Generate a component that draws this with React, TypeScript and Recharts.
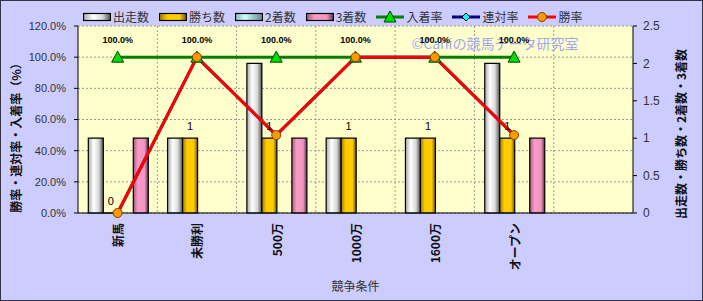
import { ComposedChart, Bar, Line, XAxis, YAxis, CartesianGrid, Legend, LabelList, Customized } from 'recharts';

const categories = ['新馬', '未勝利', '500万', '1000万', '1600万', 'オープン', ''];
const starts = [1, 1, 2, 1, 1, 2, null];
const wins = [0, 1, 1, 1, 1, 1, null];
const seconds = [0, 0, 0, 0, 0, 0, null];
const thirds = [1, 0, 1, 0, 0, 1, null];
const placeRate = [100, 100, 100, 100, 100, 100, null];
const rentaiRate = [0, 100, 50, 100, 100, 50, null];
const winRate = [0, 100, 50, 100, 100, 50, null];

const leftTicks = [0, 20, 40, 60, 80, 100, 120];
const rightTicks = [0, 0.5, 1, 1.5, 2, 2.5];

const data = categories.map((name, i) => ({
  name,
  starts: starts[i],
  wins: wins[i],
  seconds: seconds[i],
  thirds: thirds[i],
  placeRate: placeRate[i],
  rentaiRate: rentaiRate[i],
  winRate: winRate[i],
}));

const FONT = '"Noto Sans CJK JP", "Liberation Sans", sans-serif';
const NUM_FONT = '"Liberation Sans", Arial, sans-serif';

const legendItems = [
  { label: '出走数', kind: 'bar', fill: 'url(#gWhite)' },
  { label: '勝ち数', kind: 'bar', fill: 'url(#gGold)' },
  { label: '2着数', kind: 'bar', fill: 'url(#gCyan)' },
  { label: '3着数', kind: 'bar', fill: 'url(#gPink)' },
  { label: '入着率', kind: 'tri', stroke: '#008000', fill: '#00e000' },
  { label: '連対率', kind: 'dia', stroke: '#000080', fill: '#00ffff' },
  { label: '勝率', kind: 'circ', stroke: '#ff0000', fill: '#ff9900' },
];

function Marker({ kind, cx, cy, fill }: any) {
  if (kind === 'tri') {
    return <polygon points={`${cx},${cy - 6} ${cx - 6},${cy + 5} ${cx + 6},${cy + 5}`} fill={fill} stroke="#004000" strokeWidth={1} />;
  }
  if (kind === 'dia') {
    return <polygon points={`${cx},${cy - 4} ${cx + 4},${cy} ${cx},${cy + 4} ${cx - 4},${cy}`} fill={fill} stroke="#000" strokeWidth={1} />;
  }
  return <circle cx={cx} cy={cy} r={4.5} fill={fill} stroke="#804000" strokeWidth={1} />;
}

function LegendContent() {
  return (
    <div style={{ display: 'flex', gap: 10, fontFamily: FONT, fontSize: 12, color: '#333', lineHeight: '16px' }}>
      {legendItems.map((it) => (
        <div key={it.label} style={{ display: 'flex', alignItems: 'center' }}>
          <svg width={28} height={12} style={{ marginRight: 2 }}>
            {it.kind === 'bar' ? (
              <rect x={0.5} y={2.5} width={27} height={7} fill={it.fill} stroke="#000" strokeWidth={1.2} />
            ) : (
              <g>
                <line x1={0} y1={6} x2={28} y2={6} stroke={it.stroke} strokeWidth={3} />
                <Marker kind={it.kind} cx={14} cy={6} fill={it.fill} />
              </g>
            )}
          </svg>
          <span>{it.label}</span>
        </div>
      ))}
    </div>
  );
}

function Decorations() {
  return (
    <g>
      <defs>
        <linearGradient id="gWhite" x1="0" y1="0" x2="1" y2="0">
          <stop offset="0" stopColor="#a8a8a8" />
          <stop offset="0.35" stopColor="#ffffff" />
          <stop offset="0.7" stopColor="#d8d8d8" />
          <stop offset="1" stopColor="#505050" />
        </linearGradient>
        <linearGradient id="gGold" x1="0" y1="0" x2="1" y2="0">
          <stop offset="0" stopColor="#a07c00" />
          <stop offset="0.3" stopColor="#ffcc00" />
          <stop offset="0.75" stopColor="#ffcc00" />
          <stop offset="1" stopColor="#6a5000" />
        </linearGradient>
        <linearGradient id="gCyan" x1="0" y1="0" x2="1" y2="0">
          <stop offset="0" stopColor="#88bbbb" />
          <stop offset="0.35" stopColor="#ccffff" />
          <stop offset="1" stopColor="#608888" />
        </linearGradient>
        <linearGradient id="gPink" x1="0" y1="0" x2="1" y2="0">
          <stop offset="0" stopColor="#a05878" />
          <stop offset="0.3" stopColor="#f79cc8" />
          <stop offset="0.75" stopColor="#f294c0" />
          <stop offset="1" stopColor="#603048" />
        </linearGradient>
      </defs>
      <text x={495} y={49} textAnchor="middle" fontFamily={FONT} fontSize={14} fill="#a0a8f0">
        ©Caniの競馬データ研究室
      </text>
      <text x={15} y={135} transform="rotate(-90 15 135)" textAnchor="middle" dominantBaseline="central" fontFamily={FONT} fontSize={12} fontWeight="bold" fill="#111">
        勝率・連対率・入着率（%）
      </text>
      <text x={680} y={134} transform="rotate(-90 680 134)" textAnchor="middle" dominantBaseline="central" fontFamily={FONT} fontSize={12} fontWeight="bold" fill="#111">
        出走数・勝ち数・2着数・3着数
      </text>
    </g>
  );
}

function CategoryTick({ x, y, payload }: any) {
  const ty = y + 2;
  return (
    <text x={x} y={ty} transform={`rotate(-90 ${x} ${ty})`} textAnchor="end" dominantBaseline="central" fontFamily={FONT} fontSize={12} fontWeight="bold" fill="#111">
      {payload.value}
    </text>
  );
}

function RateLabel({ x, y, value }: any) {
  if (value == null) return null;
  return (
    <text x={x} y={y - 14} textAnchor="middle" fontFamily={NUM_FONT} fontSize={9} fontWeight="bold" fill="#000">
      {`${Number(value).toFixed(1)}%`}
    </text>
  );
}

function WinsLabel({ x, y, width, value }: any) {
  if (value == null) return null;
  return (
    <text x={x + width / 2} y={y - 8} textAnchor="middle" fontFamily={NUM_FONT} fontSize={11} fill="#000">
      {value}
    </text>
  );
}

export default function App() {
  return (
    <div style={{ position: 'absolute', left: 0, top: 0, width: 703, height: 301, background: '#ccccff' }}>
      <ComposedChart width={703} height={301} data={data} margin={{ top: 26, right: 0, bottom: 0, left: 0 }} barCategoryGap="13%" barGap={0}>
        <Customized component={Decorations} />
        <CartesianGrid
          yAxisId="left"
          fill="#ffffcc"
          stroke="#999999"
          strokeDasharray="2 2"
          verticalCoordinatesGenerator={({ offset }: any) =>
            categories.slice(1).map((_, i) => offset.left + ((i + 1) * offset.width) / categories.length)
          }
        />
        <XAxis dataKey="name" interval={0} height={88} tickLine={false} axisLine={{ stroke: '#000' }} tick={<CategoryTick />}
          label={{ value: '競争条件', position: 'insideBottom', offset: 10, fontFamily: FONT, fontSize: 12, fill: '#333' }} />
        <YAxis yAxisId="left" width={78} domain={[0, 120]} ticks={leftTicks} tickSize={4} tickMargin={8}
          tickFormatter={(v: number) => `${v.toFixed(1)}%`} axisLine={{ stroke: '#000' }} tickLine={{ stroke: '#000' }}
          tick={{ fontFamily: NUM_FONT, fontSize: 11, fill: '#333' }} />
        <YAxis yAxisId="right" orientation="right" width={70} domain={[0, 2.5]} ticks={rightTicks} tickSize={4} tickMargin={6}
          axisLine={{ stroke: '#000' }} tickLine={{ stroke: '#000' }}
          tick={{ fontFamily: NUM_FONT, fontSize: 12, fill: '#333', textAnchor: 'start' }} />
        <Legend verticalAlign="middle" align="center" wrapperStyle={{ top: 9, left: 83, width: 600 }} content={<LegendContent />} />
        <Bar yAxisId="right" dataKey="starts" name="出走数" fill="url(#gWhite)" stroke="#000" strokeWidth={1.2} isAnimationActive={false} />
        <Bar yAxisId="right" dataKey="wins" name="勝ち数" fill="url(#gGold)" stroke="#000" strokeWidth={1.2} minPointSize={0.01} isAnimationActive={false}>
          <LabelList dataKey="wins" content={<WinsLabel />} />
        </Bar>
        <Bar yAxisId="right" dataKey="seconds" name="2着数" fill="url(#gCyan)" stroke="#000" strokeWidth={1.2} isAnimationActive={false} />
        <Bar yAxisId="right" dataKey="thirds" name="3着数" fill="url(#gPink)" stroke="#000" strokeWidth={1.2} isAnimationActive={false} />
        <Line yAxisId="left" dataKey="placeRate" name="入着率" stroke="#008000" strokeWidth={3}
          dot={(p: any) => p.value == null ? <g key={p.index} /> : <Marker key={p.index} kind="tri" cx={p.cx} cy={p.cy} fill="#00e000" />}
          activeDot={false} isAnimationActive={false}>
          <LabelList dataKey="placeRate" content={<RateLabel />} />
        </Line>
        <Line yAxisId="left" dataKey="rentaiRate" name="連対率" stroke="#000080" strokeWidth={3}
          dot={(p: any) => p.value == null ? <g key={p.index} /> : <Marker key={p.index} kind="dia" cx={p.cx} cy={p.cy} fill="#00ffff" />}
          activeDot={false} isAnimationActive={false} />
        <Line yAxisId="left" dataKey="winRate" name="勝率" stroke="#ff0000" strokeWidth={3}
          dot={(p: any) => p.value == null ? <g key={p.index} /> : <Marker key={p.index} kind="circ" cx={p.cx} cy={p.cy} fill="#ff9900" />}
          activeDot={false} isAnimationActive={false} />
      </ComposedChart>
      <div style={{ position: 'absolute', inset: 0, border: '1px solid #333344', pointerEvents: 'none' }} />
    </div>
  );
}
